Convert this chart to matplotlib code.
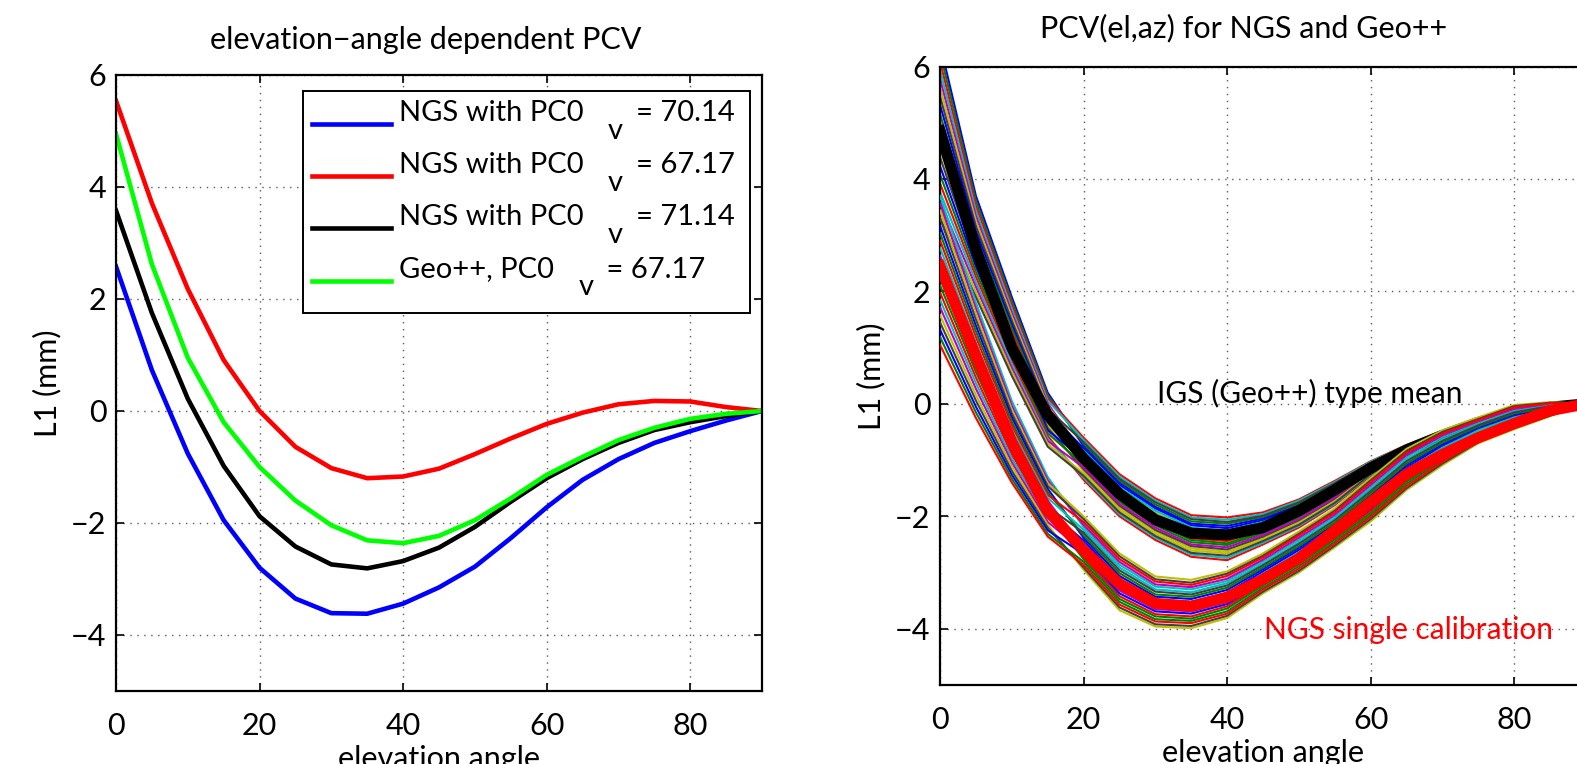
import matplotlib
matplotlib.use("Agg")
import matplotlib.pyplot as plt
from matplotlib.transforms import IdentityTransform

plt.rcParams['font.family'] = ['Lato', 'DejaVu Sans']
plt.rcParams['axes.unicode_minus'] = True

# elevation angles (deg)
elev = [0, 5, 10, 15, 20, 25, 30, 35, 40, 45, 50, 55, 60, 65, 70, 75, 80, 85, 90]

# left panel: elevation dependent PCV (mm)
ngs_7014 = [2.58, 0.73, -0.76, -1.95, -2.80, -3.35, -3.61, -3.62, -3.44, -3.15,
            -2.78, -2.27, -1.72, -1.23, -0.86, -0.57, -0.36, -0.17, 0.0]
ngs_6717 = [5.54, 3.71, 2.18, 0.91, 0.0, -0.64, -1.02, -1.20, -1.17, -1.03,
            -0.77, -0.49, -0.23, -0.03, 0.12, 0.18, 0.17, 0.07, 0.0]
ngs_7114 = [3.58, 1.75, 0.22, -0.98, -1.88, -2.42, -2.74, -2.81, -2.68, -2.44,
            -2.07, -1.62, -1.20, -0.86, -0.57, -0.34, -0.20, -0.09, 0.0]
geo_6717 = [4.95, 2.62, 0.95, -0.20, -1.00, -1.60, -2.04, -2.31, -2.36, -2.23,
            -1.95, -1.56, -1.14, -0.82, -0.52, -0.30, -0.14, -0.05, 0.0]

left_series = [ngs_7014, ngs_6717, ngs_7114, geo_6717]
left_colors = ['#0000ff', '#ff0000', '#000000', '#00ff00']
legend_heads = ['NGS with PC0', 'NGS with PC0', 'NGS with PC0', 'Geo++, PC0']
legend_tails = ['= 70.14', '= 67.17', '= 71.14', '= 67.17']

# right panel: thick mean curves
geo_mean = [4.85, 2.75, 1.00, -0.20, -0.97, -1.60, -2.06, -2.30, -2.33, -2.20,
            -1.90, -1.53, -1.14, -0.82, -0.56, -0.33, -0.17, -0.06, 0.0]
ngs_single = [2.45, 0.85, -0.68, -1.90, -2.60, -3.20, -3.55, -3.60, -3.44, -3.12,
              -2.75, -2.25, -1.75, -1.25, -0.90, -0.60, -0.35, -0.12, 0.0]

# right panel: azimuth dependent curves, Geo++ type
geo_az = [
    [6.40, 3.70, 1.90, 0.20, -0.75, -1.40, -1.83, -2.13, -2.17, -2.04, -1.80, -1.46, -1.07, -0.77, -0.51, -0.30, -0.15, -0.05, 0.0],
    [6.25, 3.61, 1.83, 0.15, -0.71, -1.36, -1.79, -2.09, -2.13, -2.01, -1.77, -1.43, -1.06, -0.76, -0.50, -0.29, -0.14, -0.05, 0.0],
    [6.09, 3.52, 1.76, 0.10, -0.60, -1.25, -1.68, -1.98, -2.02, -1.93, -1.70, -1.37, -1.02, -0.73, -0.48, -0.28, -0.13, -0.04, 0.0],
    [5.94, 3.43, 1.69, 0.06, -0.64, -1.29, -1.72, -2.02, -2.06, -1.96, -1.72, -1.39, -1.03, -0.74, -0.49, -0.28, -0.13, -0.04, 0.0],
    [5.78, 3.34, 1.62, 0.01, -0.90, -1.55, -1.98, -2.28, -2.32, -2.16, -1.90, -1.54, -1.12, -0.81, -0.54, -0.32, -0.16, -0.06, 0.0],
    [5.63, 3.25, 1.55, -0.04, -0.86, -1.51, -1.94, -2.24, -2.28, -2.13, -1.87, -1.52, -1.11, -0.80, -0.53, -0.31, -0.16, -0.05, 0.0],
    [5.47, 3.16, 1.48, -0.09, -0.68, -1.33, -1.75, -2.05, -2.10, -1.99, -1.75, -1.41, -1.05, -0.75, -0.50, -0.29, -0.14, -0.04, 0.0],
    [5.32, 3.07, 1.41, -0.14, -0.79, -1.44, -1.86, -2.16, -2.21, -2.07, -1.82, -1.48, -1.08, -0.78, -0.52, -0.30, -0.15, -0.05, 0.0],
    [5.16, 2.98, 1.34, -0.18, -1.05, -1.70, -2.12, -2.42, -2.48, -2.27, -2.00, -1.63, -1.18, -0.84, -0.58, -0.35, -0.18, -0.06, 0.0],
    [5.01, 2.89, 1.27, -0.23, -1.01, -1.66, -2.09, -2.39, -2.44, -2.24, -1.97, -1.61, -1.16, -0.83, -0.57, -0.34, -0.17, -0.06, 0.0],
    [4.85, 2.80, 1.20, -0.28, -0.83, -1.48, -1.90, -2.20, -2.25, -2.10, -1.85, -1.50, -1.10, -0.79, -0.53, -0.31, -0.15, -0.05, 0.0],
    [4.70, 2.71, 1.13, -0.33, -0.94, -1.59, -2.01, -2.31, -2.36, -2.19, -1.92, -1.56, -1.13, -0.82, -0.55, -0.33, -0.16, -0.06, 0.0],
    [4.54, 2.62, 1.06, -0.38, -1.20, -1.85, -2.27, -2.57, -2.63, -2.39, -2.10, -1.71, -1.23, -0.88, -0.61, -0.37, -0.19, -0.07, 0.0],
    [4.39, 2.53, 0.99, -0.43, -1.16, -1.81, -2.24, -2.53, -2.59, -2.36, -2.07, -1.69, -1.21, -0.87, -0.60, -0.36, -0.19, -0.07, 0.0],
    [4.23, 2.44, 0.92, -0.47, -0.98, -1.63, -2.05, -2.35, -2.40, -2.22, -1.95, -1.59, -1.15, -0.83, -0.56, -0.34, -0.17, -0.06, 0.0],
    [4.08, 2.35, 0.85, -0.52, -1.09, -1.74, -2.16, -2.46, -2.51, -2.30, -2.02, -1.65, -1.19, -0.85, -0.58, -0.35, -0.18, -0.07, 0.0],
    [3.92, 2.26, 0.78, -0.57, -1.35, -2.00, -2.42, -2.72, -2.78, -2.50, -2.20, -1.80, -1.28, -0.92, -0.64, -0.39, -0.21, -0.08, 0.0],
    [3.77, 2.17, 0.71, -0.62, -1.31, -1.96, -2.38, -2.68, -2.74, -2.47, -2.17, -1.78, -1.26, -0.91, -0.63, -0.38, -0.21, -0.08, 0.0],
    [3.61, 2.08, 0.64, -0.66, -1.13, -1.78, -2.20, -2.50, -2.55, -2.33, -2.05, -1.67, -1.20, -0.86, -0.59, -0.36, -0.19, -0.07, 0.0],
    [3.46, 1.99, 0.57, -0.71, -1.24, -1.89, -2.31, -2.61, -2.66, -2.41, -2.12, -1.73, -1.24, -0.89, -0.61, -0.37, -0.20, -0.08, 0.0],
    [3.30, 1.90, 0.50, -0.76, -1.28, -1.93, -2.35, -2.65, -2.70, -2.44, -2.15, -1.76, -1.25, -0.90, -0.62, -0.38, -0.20, -0.08, 0.0],
]

# right panel: azimuth dependent curves, NGS single calibration
ngs_az = [
    [3.70, 1.80, 0.05, -1.30, -2.19, -2.86, -3.25, -3.30, -3.15, -2.80, -2.42, -2.00, -1.47, -0.95, -0.59, -0.33, -0.11, -0.02, 0.0],
    [3.57, 1.70, -0.03, -1.36, -2.15, -2.81, -3.21, -3.26, -3.11, -2.77, -2.38, -1.97, -1.44, -0.91, -0.56, -0.31, -0.09, -0.01, 0.0],
    [3.44, 1.60, -0.10, -1.41, -2.00, -2.66, -3.07, -3.13, -2.98, -2.66, -2.27, -1.86, -1.32, -0.80, -0.47, -0.24, -0.02, 0.03, 0.0],
    [3.31, 1.50, -0.17, -1.46, -2.05, -2.71, -3.12, -3.18, -3.02, -2.70, -2.31, -1.90, -1.36, -0.84, -0.50, -0.27, -0.04, 0.02, 0.0],
    [3.17, 1.39, -0.24, -1.51, -2.38, -3.06, -3.43, -3.47, -3.31, -2.94, -2.56, -2.14, -1.63, -1.09, -0.72, -0.42, -0.19, -0.07, 0.0],
    [3.04, 1.29, -0.32, -1.57, -2.34, -3.01, -3.39, -3.43, -3.27, -2.91, -2.53, -2.11, -1.59, -1.06, -0.69, -0.40, -0.17, -0.06, 0.0],
    [2.91, 1.19, -0.39, -1.62, -2.10, -2.76, -3.16, -3.22, -3.06, -2.73, -2.34, -1.93, -1.40, -0.87, -0.53, -0.29, -0.06, 0.01, 0.0],
    [2.78, 1.09, -0.46, -1.67, -2.24, -2.91, -3.30, -3.35, -3.19, -2.84, -2.46, -2.04, -1.51, -0.99, -0.63, -0.36, -0.13, -0.03, 0.0],
    [2.64, 0.98, -0.53, -1.72, -2.57, -3.27, -3.60, -3.65, -3.48, -3.09, -2.71, -2.27, -1.78, -1.24, -0.84, -0.52, -0.28, -0.12, 0.0],
    [2.51, 0.88, -0.61, -1.78, -2.53, -3.22, -3.56, -3.61, -3.44, -3.06, -2.68, -2.24, -1.75, -1.21, -0.81, -0.50, -0.26, -0.11, 0.0],
    [2.38, 0.78, -0.68, -1.83, -2.29, -2.96, -3.34, -3.39, -3.23, -2.87, -2.49, -2.07, -1.55, -1.02, -0.66, -0.38, -0.15, -0.04, 0.0],
    [2.25, 0.68, -0.75, -1.89, -2.43, -3.12, -3.48, -3.52, -3.36, -2.98, -2.60, -2.18, -1.67, -1.13, -0.75, -0.45, -0.22, -0.09, 0.0],
    [2.11, 0.57, -0.82, -1.94, -2.76, -3.47, -3.78, -3.82, -3.64, -3.23, -2.85, -2.41, -1.94, -1.38, -0.97, -0.61, -0.36, -0.17, 0.0],
    [1.98, 0.47, -0.90, -1.99, -2.72, -3.42, -3.74, -3.78, -3.60, -3.20, -2.82, -2.38, -1.90, -1.35, -0.94, -0.59, -0.34, -0.16, 0.0],
    [1.85, 0.37, -0.97, -2.04, -2.48, -3.17, -3.52, -3.56, -3.40, -3.02, -2.64, -2.21, -1.71, -1.17, -0.78, -0.47, -0.24, -0.10, 0.0],
    [1.72, 0.27, -1.04, -2.10, -2.62, -3.32, -3.65, -3.69, -3.52, -3.13, -2.75, -2.31, -1.82, -1.28, -0.87, -0.54, -0.30, -0.14, 0.0],
    [1.58, 0.16, -1.11, -2.15, -2.95, -3.67, -3.96, -3.99, -3.81, -3.37, -3.00, -2.55, -2.09, -1.53, -1.09, -0.70, -0.45, -0.22, 0.0],
    [1.45, 0.06, -1.19, -2.20, -2.91, -3.62, -3.92, -3.95, -3.77, -3.34, -2.97, -2.52, -2.05, -1.50, -1.06, -0.68, -0.43, -0.21, 0.0],
    [1.32, -0.05, -1.26, -2.25, -2.67, -3.37, -3.69, -3.73, -3.56, -3.16, -2.78, -2.34, -1.86, -1.31, -0.90, -0.56, -0.32, -0.15, 0.0],
    [1.19, -0.15, -1.33, -2.31, -2.81, -3.52, -3.83, -3.86, -3.69, -3.27, -2.89, -2.45, -1.98, -1.42, -1.00, -0.63, -0.39, -0.19, 0.0],
    [1.05, -0.25, -1.40, -2.36, -2.86, -3.57, -3.87, -3.90, -3.73, -3.30, -2.93, -2.48, -2.01, -1.46, -1.03, -0.65, -0.41, -0.20, 0.0],
]

# old matlab line colour order
matlab_colors = [(0, 0, 1), (0, 0.5, 0), (1, 0, 0), (0, 0.75, 0.75),
                 (0.75, 0, 0.75), (0.75, 0.75, 0), (0.25, 0.25, 0.25)]

FS = 22      # axis labels, ticks, titles
FS_LEG = 21  # legend and annotations
W, H = 1577, 764
fig = plt.figure(figsize=(W / 100, H / 100), dpi=100)
ax1 = fig.add_axes([116 / W, (H - 691) / H, 646 / W, 616 / H])
ax2 = fig.add_axes([940 / W, (H - 685) / H, 646 / W, 618.5 / H])

for ax in (ax1, ax2):
    ax.set_xlim(0, 90)
    ax.set_ylim(-5, 6)
    ax.set_xticks([0, 20, 40, 60, 80])
    ax.set_yticks([-4, -2, 0, 2, 4, 6])
    ax.grid(True, linestyle=(0, (1, 4)), color='0.35', linewidth=1.0)
    ax.tick_params(direction='in', length=6, width=1.2, top=True, right=True,
                   labelsize=FS, pad=7)
    ax.tick_params(axis='x', pad=15)
    for sp in ax.spines.values():
        sp.set_linewidth(1.6)
    ax.set_xlabel('elevation angle', fontsize=FS, labelpad=4)
    ax.set_ylabel('L1 (mm)', fontsize=FS, labelpad=7)

# left panel
for vals, col, head, tail in zip(left_series, left_colors, legend_heads, legend_tails):
    ax1.plot(elev, vals, color=col, linewidth=3.3, label=head + '       ' + tail + '\n')
ax1.set_title('elevation\u2212angle dependent PCV', fontsize=FS, x=0.48, pad=19)

leg = ax1.legend(loc='upper left', bbox_to_anchor=(0.2895, 0.55, 0.692, 0.4239),
                 mode='expand', borderaxespad=0,
                 fontsize=FS_LEG, fancybox=False, framealpha=1, edgecolor='black',
                 handlelength=2.7, handletextpad=0.3, labelspacing=0.15,
                 borderpad=0.3)
leg.get_frame().set_linewidth(1.4)
for t in leg.get_texts():
    t.set_linespacing(0.8)

# right panel
for i, vals in enumerate(geo_az):
    ax2.plot(elev, vals, color=matlab_colors[i % 7], linewidth=1.5, zorder=2)
ax2.plot(elev, geo_mean, color='black', linewidth=8, zorder=3)
for i, vals in enumerate(ngs_az):
    ax2.plot(elev, vals, color=matlab_colors[(i + 3) % 7], linewidth=1.5, zorder=4)
ax2.plot(elev, ngs_single, color='red', linewidth=8, zorder=5)
ax2.text(30.2, 0.02, 'IGS (Geo++) type mean', fontsize=21.5, color='black', zorder=6)
ax2.text(45.1, -4.18, 'NGS single calibration', fontsize=21.5, color='red', zorder=6)
ax2.set_title('PCV(el,az) for NGS and Geo++', fontsize=FS, x=0.47, pad=21)

# subscript v placed like the original legend
fig.canvas.draw()
renderer = fig.canvas.get_renderer()
lp_w, lp_h, lp_d = renderer.get_text_width_height_descent(
    'lp', leg.get_texts()[0].get_fontproperties(), ismath=False)
for txt, head in zip(leg.get_texts(), legend_heads):
    bb = txt.get_window_extent(renderer)
    base = bb.y1 - (lp_h - lp_d)
    probe = fig.text(0, 0, head, fontsize=FS_LEG, transform=IdentityTransform())
    w = probe.get_window_extent(renderer).width
    probe.remove()
    fig.text(bb.x0 + w + 24, base - 18, 'v', fontsize=FS_LEG, va='baseline',
             transform=IdentityTransform())

fig.savefig('out.png', dpi=100)
